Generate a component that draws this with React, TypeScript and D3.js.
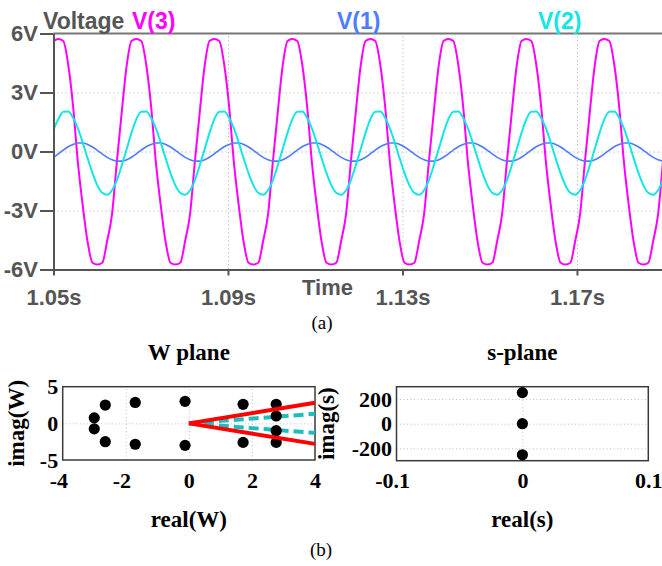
import React, { useEffect, useRef } from 'react';
import * as d3 from 'd3';

// (a) transient traces, one sample every 1/16 of a cycle starting at 1.05 s
const tStart = 1.05;
const tStep = 0.0011177;

const v3 = [
  5.62,
  5.72, 5.62, 4.45, 2.35, -0.55, -2.75, -4.6, -5.66, -5.75, -5.66, -4.55, -3.2, -0.5, 2.0, 4.35, 5.62,
  5.72, 5.62, 4.45, 2.35, -0.55, -2.75, -4.6, -5.66, -5.75, -5.66, -4.55, -3.2, -0.5, 2.0, 4.35, 5.62,
  5.72, 5.62, 4.45, 2.35, -0.55, -2.75, -4.6, -5.66, -5.75, -5.66, -4.55, -3.2, -0.5, 2.0, 4.35, 5.62,
  5.72, 5.62, 4.45, 2.35, -0.55, -2.75, -4.6, -5.66, -5.75, -5.66, -4.55, -3.2, -0.5, 2.0, 4.35, 5.62,
  5.72, 5.62, 4.45, 2.35, -0.55, -2.75, -4.6, -5.66, -5.75, -5.66, -4.55, -3.2, -0.5, 2.0, 4.35, 5.62,
  5.72, 5.62, 4.45, 2.35, -0.55, -2.75, -4.6, -5.66, -5.75, -5.66, -4.55, -3.2, -0.5, 2.0, 4.35, 5.62,
  5.72, 5.62, 4.45, 2.35, -0.55, -2.75, -4.6, -5.66, -5.75, -5.66, -4.55, -3.2, -0.5, 2.0, 4.35, 5.62,
  5.72, 5.62, 4.45, 2.35, -0.55, -2.75, -4.6, -5.66, -5.75, -5.66, -4.55, -3.2, -0.5,
];

const v1 = [
  -0.3,
  -0.12, 0.07, 0.24, 0.36, 0.43, 0.43, 0.36, 0.23, 0.06, -0.13, -0.3, -0.42, -0.49, -0.49, -0.42, -0.29,
  -0.12, 0.07, 0.24, 0.36, 0.43, 0.43, 0.36, 0.23, 0.06, -0.13, -0.3, -0.42, -0.49, -0.49, -0.42, -0.29,
  -0.12, 0.07, 0.24, 0.36, 0.43, 0.43, 0.36, 0.23, 0.06, -0.13, -0.3, -0.42, -0.49, -0.49, -0.42, -0.29,
  -0.12, 0.07, 0.24, 0.36, 0.43, 0.43, 0.36, 0.23, 0.06, -0.13, -0.3, -0.42, -0.49, -0.49, -0.42, -0.29,
  -0.12, 0.07, 0.24, 0.36, 0.43, 0.43, 0.36, 0.23, 0.06, -0.13, -0.3, -0.42, -0.49, -0.49, -0.42, -0.29,
  -0.12, 0.07, 0.24, 0.36, 0.43, 0.43, 0.36, 0.23, 0.06, -0.13, -0.3, -0.42, -0.49, -0.49, -0.42, -0.29,
  -0.12, 0.07, 0.24, 0.36, 0.43, 0.43, 0.36, 0.23, 0.06, -0.13, -0.3, -0.42, -0.49, -0.49, -0.42, -0.29,
  -0.12, 0.07, 0.24, 0.36, 0.43, 0.43, 0.36, 0.23, 0.06, -0.13, -0.3, -0.42, -0.49,
];

const v2 = [
  1.1,
  1.65, 2.02, 2.03, 1.72, 1.18, 0.45, -0.35, -1.1, -1.72, -2.1, -2.2, -1.97, -1.45, -0.7, 0.12, 0.95,
  1.65, 2.02, 2.03, 1.72, 1.18, 0.45, -0.35, -1.1, -1.72, -2.1, -2.2, -1.97, -1.45, -0.7, 0.12, 0.95,
  1.65, 2.02, 2.03, 1.72, 1.18, 0.45, -0.35, -1.1, -1.72, -2.1, -2.2, -1.97, -1.45, -0.7, 0.12, 0.95,
  1.65, 2.02, 2.03, 1.72, 1.18, 0.45, -0.35, -1.1, -1.72, -2.1, -2.2, -1.97, -1.45, -0.7, 0.12, 0.95,
  1.65, 2.02, 2.03, 1.72, 1.18, 0.45, -0.35, -1.1, -1.72, -2.1, -2.2, -1.97, -1.45, -0.7, 0.12, 0.95,
  1.65, 2.02, 2.03, 1.72, 1.18, 0.45, -0.35, -1.1, -1.72, -2.1, -2.2, -1.97, -1.45, -0.7, 0.12, 0.95,
  1.65, 2.02, 2.03, 1.72, 1.18, 0.45, -0.35, -1.1, -1.72, -2.1, -2.2, -1.97, -1.45, -0.7, 0.12, 0.95,
  1.65, 2.02, 2.03, 1.72, 1.18, 0.45, -0.35, -1.1, -1.72, -2.1, -2.2, -1.97, -1.45,
];

const traceNames = ['V(3)', 'V(1)', 'V(2)'];
const timeTicks = [1.05, 1.09, 1.13, 1.17];
const voltTicks = [-6, -3, 0, 3, 6];

// (b) pole maps
const wReal = [-3.0, -3.0, -2.65, -2.65, -1.7, -1.7, -0.12, -0.12, 1.72, 1.72, 2.77, 2.77, 2.77, 2.77];
const wImag = [0.75, -0.75, 2.5, -2.5, 2.85, -2.85, 3.0, -3.0, 2.6, -2.6, 2.6, 1.0, -1.0, -2.6];
const sectorImag = [2.8, -2.8]; // red boundary, imag value at real = 4
const dampImag = [1.3, -1.3]; // cyan dashed, imag value at real = 4
const sReal = [0, 0, 0];
const sImag = [252, 0, -252];
const wTicksX = [-4, -2, 0, 2, 4];
const wTicksY = [-5, 0, 5];
const sTicksX = [-0.1, 0, 0.1];
const sTicksY = [-200, 0, 200];

const traceColors = ['#ff00ff', '#4f7cff', '#14e6e6'];
const traceWidths = [2, 1.6, 2];
const sans = '"Liberation Sans", Arial, sans-serif';
const serif = '"Liberation Serif", "Times New Roman", serif';
const gray = '#555';

function drawTransient(svg: any) {
  const x = d3.scaleLinear().domain([1.05, 1.19]).range([53.5, 664.2]);
  const y = d3.scaleLinear().domain([-6, 6]).range([269.5, 33.5]);
  const g = svg.append('g');

  svg.append('defs').append('clipPath').attr('id', 'clipA')
    .append('rect').attr('x', 53.5).attr('y', 30).attr('width', 612).attr('height', 243);

  // dotted grid
  g.append('g').attr('transform', 'translate(0,269.5)')
    .call(d3.axisBottom(x).tickValues(timeTicks.slice(1)).tickSize(-236).tickFormat(() => ''))
    .call((a: any) => a.select('.domain').remove())
    .selectAll('line').attr('stroke', '#c4c4c4').attr('stroke-dasharray', '1.5,2.5');
  g.append('g').attr('transform', 'translate(53.5,0)')
    .call(d3.axisLeft(y).tickValues([-3, 0, 3]).tickSize(-612).tickFormat(() => ''))
    .call((a: any) => a.select('.domain').remove())
    .selectAll('line').attr('stroke', '#c4c4c4').attr('stroke-dasharray', '1.5,2.5');

  // traces
  const line = d3.line<number>()
    .x((_, i) => x(tStart + i * tStep))
    .y(d => y(d))
    .curve(d3.curveMonotoneX);
  [v3, v1, v2].forEach((s, k) => {
    g.append('path')
      .attr('d', line(s))
      .attr('fill', 'none')
      .attr('stroke', traceColors[k])
      .attr('stroke-width', traceWidths[k])
      .attr('clip-path', 'url(#clipA)');
  });

  // top frame
  g.append('line').attr('x1', 53.5).attr('x2', 662).attr('y1', 33.5).attr('y2', 33.5)
    .attr('stroke', '#777').attr('stroke-width', 2);

  // axes
  const yAx = g.append('g').attr('transform', 'translate(53.5,0)')
    .call(d3.axisLeft(y).tickValues(voltTicks).tickSize(13.5).tickSizeOuter(0).tickPadding(2)
      .tickFormat((d: any) => `${d}V`));
  const xAx = g.append('g').attr('transform', 'translate(0,269.5)')
    .call(d3.axisBottom(x).tickValues(timeTicks).tickSize(6).tickSizeOuter(0).tickPadding(14)
      .tickFormat((d: any) => `${d}s`));
  [yAx, xAx].forEach(a => {
    a.select('.domain').attr('stroke', gray).attr('stroke-width', 2);
    a.selectAll('.tick line').attr('stroke', gray).attr('stroke-width', 2);
    a.selectAll('text').attr('font-family', sans).attr('font-weight', 'bold')
      .attr('font-size', 22).attr('fill', gray);
  });

  // header
  const head = g.append('g').attr('font-family', sans).attr('font-weight', 'bold').attr('font-size', 23);
  head.append('text').attr('x', 43).attr('y', 29).attr('fill', gray).text('Voltage');
  const labelX = [132, 337, 538];
  traceNames.forEach((n, k) => {
    head.append('text').attr('x', labelX[k]).attr('y', 29).attr('fill', traceColors[k]).text(n);
  });

  g.append('text').attr('x', 327.5).attr('y', 295).attr('text-anchor', 'middle')
    .attr('font-family', sans).attr('font-weight', 'bold').attr('font-size', 22).attr('fill', gray)
    .text('Time');
  g.append('text').attr('x', 322).attr('y', 329).attr('text-anchor', 'middle')
    .attr('font-family', serif).attr('font-size', 19).attr('fill', '#000').text('(a)');
}

function drawPlane(svg: any, o: any) {
  const x = d3.scaleLinear().domain(o.xDom).range([o.x0, o.x1]);
  const y = d3.scaleLinear().domain(o.yDom).range([o.y1, o.y0]);
  const g = svg.append('g');

  const inner = (t: number[]) => t.filter(v => v !== t[0] && v !== t[t.length - 1]);
  g.append('g').attr('transform', `translate(0,${o.y1})`)
    .call(d3.axisBottom(x).tickValues(inner(o.xTicks)).tickSize(-(o.y1 - o.y0)).tickFormat(() => ''))
    .call((a: any) => a.select('.domain').remove())
    .selectAll('line').attr('stroke', '#bdbdbd').attr('stroke-dasharray', '1,2.5');
  g.append('g').attr('transform', `translate(${o.x0},0)`)
    .call(d3.axisLeft(y).tickValues(o.gridY).tickSize(-(o.x1 - o.x0)).tickFormat(() => ''))
    .call((a: any) => a.select('.domain').remove())
    .selectAll('line').attr('stroke', '#bdbdbd').attr('stroke-dasharray', '1,2.5');

  const xAx = g.append('g').attr('transform', `translate(0,${o.y1})`)
    .call(d3.axisBottom(x).tickValues(o.xTicks).tickSize(0).tickPadding(12).tickFormat((d: any) => String(d)));
  const yAx = g.append('g').attr('transform', `translate(${o.x0},0)`)
    .call(d3.axisLeft(y).tickValues(o.yTicks).tickSize(0).tickPadding(4.5).tickFormat((d: any) => String(d)));
  [xAx, yAx].forEach(a => {
    a.select('.domain').remove();
    a.selectAll('text').attr('font-family', serif).attr('font-weight', 'bold')
      .attr('font-size', 22).attr('fill', '#000');
  });
  xAx.selectAll('text').attr('dx', (d: any) => (d < 0 ? '-0.2em' : 0));

  g.append('rect').attr('x', o.x0).attr('y', o.y0).attr('width', o.x1 - o.x0).attr('height', o.y1 - o.y0)
    .attr('fill', 'none').attr('stroke', '#3a3a3a').attr('stroke-width', 1.5);

  const cx = (o.x0 + o.x1) / 2;
  const lab = (sel: any) => sel.attr('font-family', serif).attr('font-weight', 'bold')
    .attr('font-size', 23).attr('fill', '#000').attr('text-anchor', 'middle');
  lab(g.append('text')).attr('x', cx).attr('y', 360).text(o.title);
  lab(g.append('text')).attr('x', cx).attr('y', 527).text(o.xLabel);
  lab(g.append('text')).attr('transform', `translate(${o.yLabelX},${(o.y0 + o.y1) / 2}) rotate(-90)`)
    .text(o.yLabel);

  const marks = g.append('g');
  return { x, y, g: marks };
}

export default function App() {
  const ref = useRef<SVGSVGElement>(null);

  useEffect(() => {
    if (!ref.current) return;
    const svg = d3.select(ref.current);
    svg.selectAll('*').remove();

    drawTransient(svg);

    const w = drawPlane(svg, {
      x0: 62.7, x1: 315, y0: 386.7, y1: 460,
      xDom: [-4, 4], yDom: [-5, 5], xTicks: wTicksX, yTicks: wTicksY, gridY: [0],
      title: 'W plane', xLabel: 'real(W)', yLabel: 'imag(W)', yLabelX: 24,
    });
    dampImag.forEach(im => {
      w.g.append('line')
        .attr('x1', w.x(0)).attr('y1', w.y(0)).attr('x2', w.x(4)).attr('y2', w.y(im))
        .attr('stroke', '#1dbdbd').attr('stroke-width', 4).attr('stroke-dasharray', '10,5');
    });
    w.g.selectAll('circle').data(d3.range(wReal.length)).join('circle')
      .attr('cx', (i: number) => w.x(wReal[i])).attr('cy', (i: number) => w.y(wImag[i]))
      .attr('r', 5.6).attr('fill', '#000');
    sectorImag.forEach(im => {
      w.g.append('line')
        .attr('x1', w.x(0)).attr('y1', w.y(0)).attr('x2', w.x(4)).attr('y2', w.y(im))
        .attr('stroke', '#ff0000').attr('stroke-width', 4);
    });

    const s = drawPlane(svg, {
      x0: 396.5, x1: 648.3, y0: 386.7, y1: 460.7,
      xDom: [-0.1, 0.1], yDom: [-300, 300], xTicks: sTicksX, yTicks: sTicksY, gridY: sTicksY,
      title: 's-plane', xLabel: 'real(s)', yLabel: 'imag(s)', yLabelX: 334,
    });
    s.g.selectAll('circle').data(d3.range(sReal.length)).join('circle')
      .attr('cx', (i: number) => s.x(sReal[i])).attr('cy', (i: number) => s.y(sImag[i]))
      .attr('r', 5.6).attr('fill', '#000');

    svg.append('text').attr('x', 321).attr('y', 556).attr('text-anchor', 'middle')
      .attr('font-family', serif).attr('font-size', 19).attr('fill', '#000').text('(b)');
  }, []);

  return (
    <div>
      <style>{'body{margin:0}'}</style>
      <svg ref={ref} width={662} height={566} style={{ display: 'block', background: '#fff' }} />
    </div>
  );
}
